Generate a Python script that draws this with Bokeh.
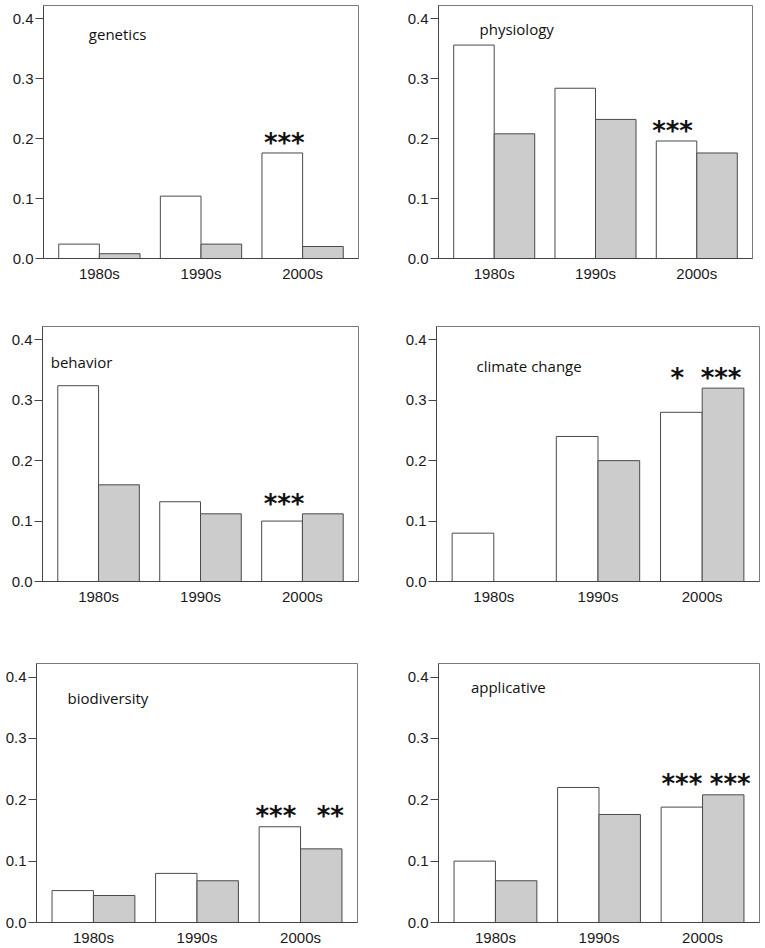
from bokeh.plotting import figure
from bokeh.models import FactorRange, Range1d, FixedTicker, PrintfTickFormatter, Label, ColumnDataSource
from bokeh.transform import dodge
from bokeh.layouts import row, column
from bokeh.embed import file_html
from bokeh.resources import INLINE
from bokeh.core.properties import value

decades = ["1980s", "1990s", "2000s"]
y_ticks = [0.0, 0.1, 0.2, 0.3, 0.4]

genetics_white = [0.024, 0.104, 0.176]
genetics_gray = [0.008, 0.024, 0.020]
genetics_sig_white = ["", "", "***"]
genetics_sig_gray = ["", "", ""]

physiology_white = [0.356, 0.284, 0.196]
physiology_gray = [0.208, 0.232, 0.176]
physiology_sig_white = ["", "", "***"]
physiology_sig_gray = ["", "", ""]

behavior_white = [0.324, 0.132, 0.100]
behavior_gray = [0.160, 0.112, 0.112]
behavior_sig_white = ["", "", "***"]
behavior_sig_gray = ["", "", ""]

climate_white = [0.080, 0.240, 0.280]
climate_gray = [0.000, 0.200, 0.320]
climate_sig_white = ["", "", "*"]
climate_sig_gray = ["", "", "***"]

biodiversity_white = [0.052, 0.080, 0.156]
biodiversity_gray = [0.044, 0.068, 0.120]
biodiversity_sig_white = ["", "", "***"]
biodiversity_sig_gray = ["", "", "**"]

applicative_white = [0.100, 0.220, 0.188]
applicative_gray = [0.068, 0.176, 0.208]
applicative_sig_white = ["", "", "***"]
applicative_sig_gray = ["", "", "***"]

# layout: (title, white, gray, sig_w, sig_g, width, height, b_left, b_right, b_top, b_bottom,
#          label_x, label_y, star_dx_white, star_dx_gray)
panels = [
    ("genetics", genetics_white, genetics_gray, genetics_sig_white, genetics_sig_gray,
     380, 296, 43, 22, 1, 42, 0.396, 0.375, 2, 0),
    ("physiology", physiology_white, physiology_gray, physiology_sig_white, physiology_sig_gray,
     383, 296, 58, 11, 1, 42, 0.355, 0.383, -4, 0),
    ("behavior", behavior_white, behavior_gray, behavior_sig_white, behavior_sig_gray,
     380, 320, 42, 22, 26, 39, 0.031, 0.364, 2, 0),
    ("climate change", climate_white, climate_gray, climate_sig_white, climate_sig_gray,
     383, 320, 56, 4, 23, 36, 0.334, 0.357, -4, -2),
    ("biodiversity", biodiversity_white, biodiversity_gray, biodiversity_sig_white, biodiversity_sig_gray,
     380, 328, 36, 23, 43, 25, 0.25, 0.366, -4, 9),
    ("applicative", applicative_white, applicative_gray, applicative_sig_white, applicative_sig_gray,
     383, 328, 58, 4, 43, 25, 0.263, 0.383, 0, 7),
]

BAR_LINE = "#4a4a4a"
GRAY_FILL = "#cccccc"


def make_panel(title, white, gray, sw, sg, w, h, bl, br, bt, bb, lx, ly, dxw, dxg):
    p = figure(width=w, height=h,
               x_range=FactorRange(*decades, range_padding=0.05, range_padding_units="absolute"),
               y_range=Range1d(0, 0.422),
               output_backend="svg", toolbar_location=None,
               min_border=0, min_border_left=bl, min_border_right=br,
               min_border_top=bt, min_border_bottom=bb)
    top = [max(a, b) for a, b in zip(white, gray)]
    src = ColumnDataSource(dict(cat=decades, white=white, gray=gray, sw=sw, sg=sg,
                                sy=[t + 0.017 for t in top]))
    p.vbar(x=dodge("cat", -0.2, range=p.x_range), top="white", width=0.4, source=src,
           fill_color="white", line_color=BAR_LINE, line_width=1)
    p.vbar(x=dodge("cat", 0.2, range=p.x_range), top="gray", width=0.4, source=src,
           fill_color=GRAY_FILL, line_color=BAR_LINE, line_width=1)
    for col, off, dx in (("sw", -0.2, dxw), ("sg", 0.2, dxg)):
        p.text(x=dodge("cat", off, range=p.x_range), y="sy", text=col, source=src,
               x_offset=dx, text_align="center", text_baseline="middle",
               text_font=value("DejaVu Sans"), text_font_style="bold",
               text_font_size="26px", text_color="#111111")
    p.add_layout(Label(x=lx, y=ly, text=title, text_align="left", text_baseline="middle",
                       text_font="Open Sans", text_font_size="15px", text_color="#111111"))

    p.xgrid.grid_line_color = None
    p.ygrid.grid_line_color = None
    p.outline_line_color = "#7a7a7a"
    p.outline_line_width = 1
    p.background_fill_color = "white"
    p.border_fill_color = "white"

    p.yaxis.ticker = FixedTicker(ticks=y_ticks)
    p.yaxis.formatter = PrintfTickFormatter(format="%.1f")
    p.yaxis.major_tick_out = 8
    p.yaxis.major_tick_in = 0
    p.yaxis.minor_tick_line_color = None
    p.yaxis.major_label_standoff = 2
    p.yaxis.axis_line_color = "#444444"
    p.yaxis.major_tick_line_color = "#444444"

    p.xaxis.major_tick_line_color = None
    p.xaxis.major_tick_out = 0
    p.xaxis.major_tick_in = 0
    p.xaxis.major_label_standoff = 6
    p.xaxis.axis_line_color = "#444444"

    for ax in (p.xaxis, p.yaxis):
        ax.major_label_text_font = "Liberation Sans"
        ax.major_label_text_font_size = "15px"
        ax.major_label_text_color = "#1a1a1a"
    return p


figs = [make_panel(*pp) for pp in panels]
layout = column(row(figs[0], figs[1]), row(figs[2], figs[3]), row(figs[4], figs[5]),
                margin=(4, 0, 0, 0))

open("out.html", "w").write(file_html(layout, INLINE))
